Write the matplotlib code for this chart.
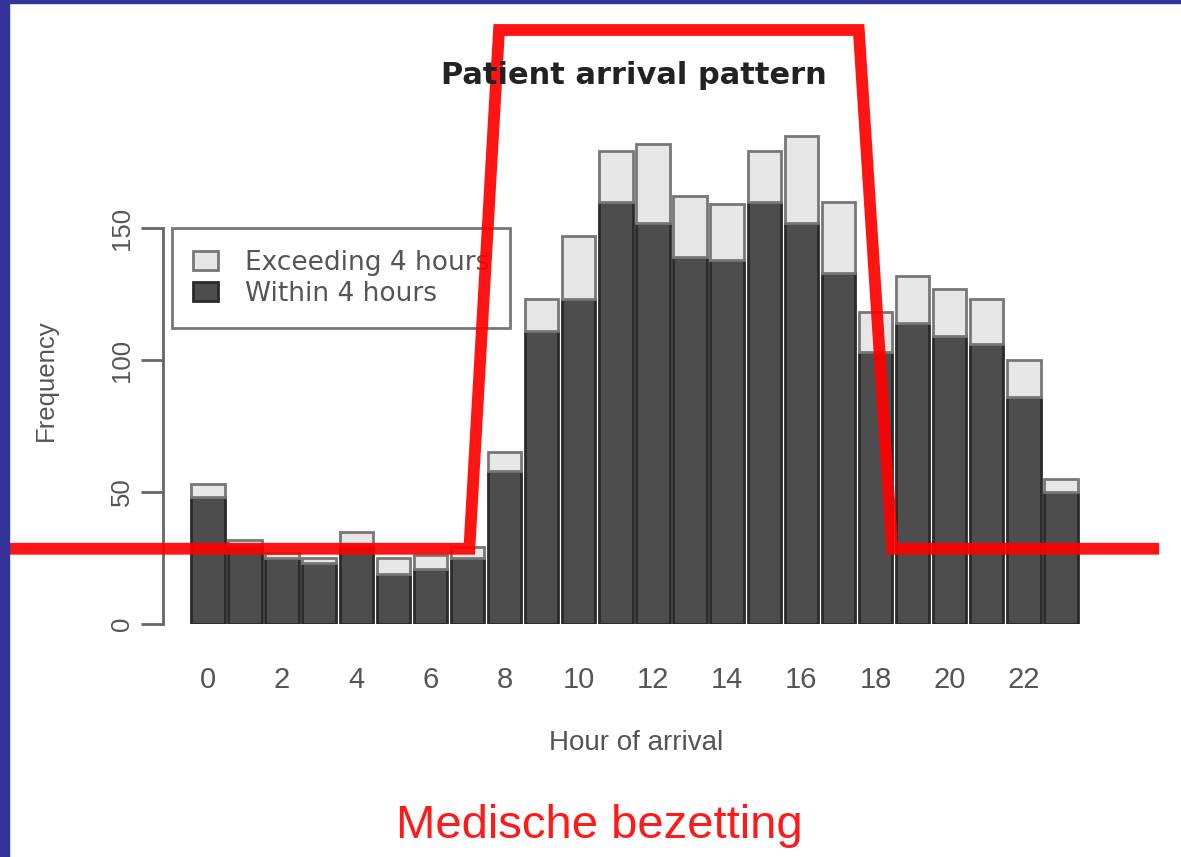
import numpy as np
import matplotlib
matplotlib.use("Agg")
import matplotlib.pyplot as plt
from matplotlib.patches import Rectangle, Patch

plt.rcParams['font.family'] = ['Liberation Sans', 'DejaVu Sans']

# data
hours = np.arange(24)
within = [48, 30, 25, 23, 30, 19, 21, 25, 58, 111, 123, 160, 152, 139, 138, 160,
          152, 133, 103, 114, 109, 106, 86, 50]
total = [53, 32, 27, 25, 35, 25, 26, 29, 65, 123, 147, 179, 182, 162, 159, 179,
         185, 160, 118, 132, 127, 123, 100, 55]
exceed = [t - w for t, w in zip(total, within)]
tick_hours = list(range(0, 24, 2))

# medical staffing line (hand drawn overlay), in hour / frequency units
staff_x = [-5.35, 7.05, 7.85, 17.55, 18.45, 25.65]
staff_y = [28.5, 28.5, 225, 225, 28.5, 28.5]

fig = plt.figure(figsize=(11.81, 8.57), dpi=100)
fig.patch.set_facecolor('white')
ax = fig.add_axes([163/1181, (857-624)/857, 935/1181, 501.6/857])

dark = '#4d4d4d'
light = '#e6e6e6'
ax.bar(hours, within, width=0.9, color=dark, edgecolor='#2a2a2a', linewidth=2)
ax.bar(hours, exceed, bottom=within, width=0.9, color=light, edgecolor='#777777', linewidth=2)

ax.set_xlim(-1.21, 24)
ax.set_ylim(0, 190)
for s in ['top', 'right', 'bottom']:
    ax.spines[s].set_visible(False)
ax.spines['left'].set_bounds(0, 150)
ax.spines['left'].set_color('#666666')
ax.spines['left'].set_linewidth(2)

ax.set_yticks([0, 50, 100, 150])
ax.set_yticklabels(['0', '50', '100', '150'], rotation=90, va='center',
                   fontsize=18.5, color='#555555')
ax.tick_params(axis='y', length=16, width=2, color='#666666', pad=5)
ax.set_xticks(tick_hours)
ax.set_xticklabels([str(h) for h in tick_hours], fontsize=21, color='#555555')
ax.tick_params(axis='x', length=0, pad=30)

ax.set_xlabel('Hour of arrival', fontsize=20, color='#555555')
ax.xaxis.set_label_coords(473/935, (624-743)/501.6)
ax.xaxis.label.set_va('center')
ax.set_ylabel('Frequency', fontsize=18.5, color='#555555')
ax.yaxis.set_label_coords((46-163)/935, (624-380)/501.6)
ax.yaxis.label.set_va('center')

fig.text(634/1181, 1 - 75/857, 'Patient arrival pattern', ha='center', va='center',
         fontsize=22, fontweight='bold', color='#222222', family='DejaVu Sans')

leg = ax.legend(handles=[Patch(facecolor=light, edgecolor='#777777', linewidth=2),
                         Patch(facecolor=dark, edgecolor='#2a2a2a', linewidth=2)],
                labels=['Exceeding 4 hours', 'Within 4 hours'],
                loc='upper left', bbox_to_anchor=(9/935, 1 - (228-122)/501.6),
                fancybox=False, framealpha=1, edgecolor='#777777',
                prop={'family': 'DejaVu Sans', 'size': 19},
                handlelength=0.95, handleheight=0.75, labelspacing=0.2,
                borderpad=0.8, handletextpad=1.0, borderaxespad=0)
leg.get_frame().set_linewidth(2)
for t in leg.get_texts():
    t.set_color('#555555')
leg.set_zorder(3)

ax.plot(staff_x, staff_y, color='red', linewidth=8.5, alpha=0.92,
        solid_joinstyle='miter', solid_capstyle='butt', clip_on=False, zorder=5)

fig.text(599/1181, 1 - 826/857, 'Medische bezetting', ha='center', va='center',
         fontsize=34, color='#ff1a1a')

# blue slide border
fig.patches.append(Rectangle((0, 0), 9/1181, 1, transform=fig.transFigure,
                             color='#333399', zorder=10))
fig.patches.append(Rectangle((0, 1 - 3/857), 1, 3/857, transform=fig.transFigure,
                             color='#333399', zorder=10))

fig.savefig('out.png', dpi=100)
